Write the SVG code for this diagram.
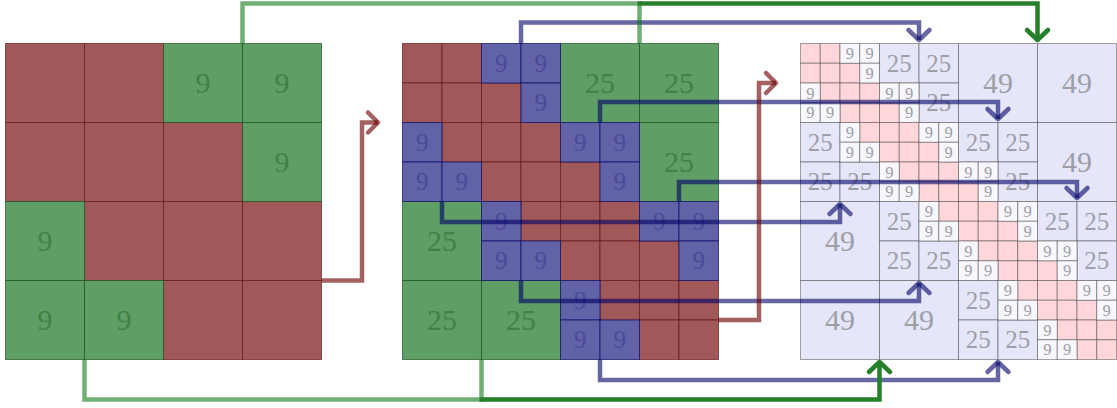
<svg xmlns="http://www.w3.org/2000/svg" xmlns:xlink="http://www.w3.org/1999/xlink" width="1117" height="408" viewBox="0 0 1117 408">
<style>
.r{fill:#a15858;stroke:#5a1212;stroke-opacity:.65;stroke-width:1}
.g{fill:#5f9e64;stroke:#164a1b;stroke-opacity:.65;stroke-width:1}
.b{fill:#6262a6;stroke:#0a0a6a;stroke-opacity:.7;stroke-width:1}
.p{fill:#ffd6d9;stroke:#333;stroke-opacity:.45;stroke-width:1}
.w{fill:#f7f7fd;stroke:#333;stroke-opacity:.45;stroke-width:1}
.l{fill:#e6e6fa;stroke:#333;stroke-opacity:.45;stroke-width:1}
text{font-family:"Liberation Serif","DejaVu Serif",serif;text-anchor:middle}
.tg{fill:#418246;font-size:30px}
.tb{fill:#4a4a98;font-size:25px}
.tr{fill:#9e9ea6}
.big{font-size:30px}
.med{font-size:25px}
.sm{font-size:16.5px}
.cb{fill:none;stroke:#000064;stroke-opacity:.6;stroke-width:4.5}
.cgl{fill:none;stroke:#107a18;stroke-opacity:.6;stroke-width:4.5}
.cgd{fill:none;stroke:#267f2a;stroke-width:4.5}
.cr{fill:none;stroke:#6e0000;stroke-opacity:.62;stroke-width:4.5}
</style>
<defs>
<rect id="pk" class="p" width="19.75" height="19.75"/>
<rect id="wh" class="w" width="19.75" height="19.75"/>
<marker id="mb" markerUnits="userSpaceOnUse" viewBox="-14 -14 18 28" markerWidth="18" markerHeight="28" refX="0" refY="0" orient="auto" style="overflow:visible"><path d="M-10,-10.5 L0,0 L-10,10.5" fill="none" stroke="#000064" stroke-opacity=".6" stroke-width="4.5" stroke-linecap="round" stroke-linejoin="round"/></marker>
<marker id="mg" markerUnits="userSpaceOnUse" viewBox="-14 -14 18 28" markerWidth="18" markerHeight="28" refX="0" refY="0" orient="auto" style="overflow:visible"><path d="M-10,-10.5 L0,0 L-10,10.5" fill="none" stroke="#267f2a" stroke-width="4.5" stroke-linecap="round" stroke-linejoin="round"/></marker>
<marker id="mr" markerUnits="userSpaceOnUse" viewBox="-14 -14 18 28" markerWidth="18" markerHeight="28" refX="0" refY="0" orient="auto" style="overflow:visible"><path d="M-10,-10 L0,0 L-10,10" fill="none" stroke="#6e0000" stroke-opacity=".62" stroke-width="4.5" stroke-linecap="round" stroke-linejoin="round"/></marker>
</defs>

<g id="grid-level1">
<rect class="r" x="5.5" y="43.5" width="79" height="79"/>
<rect class="r" x="84.5" y="43.5" width="79" height="79"/>
<rect class="r" x="5.5" y="122.5" width="79" height="79"/>
<rect class="r" x="84.5" y="122.5" width="79" height="79"/>
<rect class="r" x="163.5" y="122.5" width="79" height="79"/>
<rect class="r" x="84.5" y="201.5" width="79" height="79"/>
<rect class="r" x="163.5" y="201.5" width="79" height="79"/>
<rect class="r" x="242.5" y="201.5" width="79" height="79"/>
<rect class="r" x="163.5" y="280.5" width="79" height="79"/>
<rect class="r" x="242.5" y="280.5" width="79" height="79"/>
<rect class="g" x="163.5" y="43.5" width="79" height="79"/>
<rect class="g" x="242.5" y="43.5" width="79" height="79"/>
<rect class="g" x="242.5" y="122.5" width="79" height="79"/>
<rect class="g" x="5.5" y="201.5" width="79" height="79"/>
<rect class="g" x="5.5" y="280.5" width="79" height="79"/>
<rect class="g" x="84.5" y="280.5" width="79" height="79"/>
<text class="tg" x="203" y="93.2">9</text>
<text class="tg" x="282" y="93.2">9</text>
<text class="tg" x="282" y="172.2">9</text>
<text class="tg" x="45" y="251.2">9</text>
<text class="tg" x="45" y="330.2">9</text>
<text class="tg" x="124" y="330.2">9</text>
</g>

<g id="grid-level2">
<rect class="r" x="402.5" y="43.5" width="39.5" height="39.5"/>
<rect class="r" x="442" y="43.5" width="39.5" height="39.5"/>
<rect class="r" x="402.5" y="83" width="39.5" height="39.5"/>
<rect class="r" x="442" y="83" width="39.5" height="39.5"/>
<rect class="r" x="481.5" y="83" width="39.5" height="39.5"/>
<rect class="r" x="442" y="122.5" width="39.5" height="39.5"/>
<rect class="r" x="481.5" y="122.5" width="39.5" height="39.5"/>
<rect class="r" x="521" y="122.5" width="39.5" height="39.5"/>
<rect class="r" x="481.5" y="162" width="39.5" height="39.5"/>
<rect class="r" x="521" y="162" width="39.5" height="39.5"/>
<rect class="r" x="560.5" y="162" width="39.5" height="39.5"/>
<rect class="r" x="521" y="201.5" width="39.5" height="39.5"/>
<rect class="r" x="560.5" y="201.5" width="39.5" height="39.5"/>
<rect class="r" x="600" y="201.5" width="39.5" height="39.5"/>
<rect class="r" x="560.5" y="241" width="39.5" height="39.5"/>
<rect class="r" x="600" y="241" width="39.5" height="39.5"/>
<rect class="r" x="639.5" y="241" width="39.5" height="39.5"/>
<rect class="r" x="600" y="280.5" width="39.5" height="39.5"/>
<rect class="r" x="639.5" y="280.5" width="39.5" height="39.5"/>
<rect class="r" x="679" y="280.5" width="39.5" height="39.5"/>
<rect class="r" x="639.5" y="320" width="39.5" height="39.5"/>
<rect class="r" x="679" y="320" width="39.5" height="39.5"/>
<rect class="g" x="560.5" y="43.5" width="79" height="79"/>
<rect class="g" x="639.5" y="43.5" width="79" height="79"/>
<rect class="g" x="639.5" y="122.5" width="79" height="79"/>
<rect class="g" x="402.5" y="201.5" width="79" height="79"/>
<rect class="g" x="402.5" y="280.5" width="79" height="79"/>
<rect class="g" x="481.5" y="280.5" width="79" height="79"/>
<rect class="b" x="481.5" y="43.5" width="39.5" height="39.5"/>
<rect class="b" x="521" y="43.5" width="39.5" height="39.5"/>
<rect class="b" x="521" y="83" width="39.5" height="39.5"/>
<rect class="b" x="402.5" y="122.5" width="39.5" height="39.5"/>
<rect class="b" x="402.5" y="162" width="39.5" height="39.5"/>
<rect class="b" x="442" y="162" width="39.5" height="39.5"/>
<rect class="b" x="560.5" y="122.5" width="39.5" height="39.5"/>
<rect class="b" x="600" y="122.5" width="39.5" height="39.5"/>
<rect class="b" x="600" y="162" width="39.5" height="39.5"/>
<rect class="b" x="481.5" y="201.5" width="39.5" height="39.5"/>
<rect class="b" x="481.5" y="241" width="39.5" height="39.5"/>
<rect class="b" x="521" y="241" width="39.5" height="39.5"/>
<rect class="b" x="639.5" y="201.5" width="39.5" height="39.5"/>
<rect class="b" x="679" y="201.5" width="39.5" height="39.5"/>
<rect class="b" x="679" y="241" width="39.5" height="39.5"/>
<rect class="b" x="560.5" y="280.5" width="39.5" height="39.5"/>
<rect class="b" x="560.5" y="320" width="39.5" height="39.5"/>
<rect class="b" x="600" y="320" width="39.5" height="39.5"/>
<text class="tg" x="600" y="93.2">25</text>
<text class="tg" x="679" y="93.2">25</text>
<text class="tg" x="679" y="172.2">25</text>
<text class="tg" x="442" y="251.2">25</text>
<text class="tg" x="442" y="330.2">25</text>
<text class="tg" x="521" y="330.2">25</text>
<text class="tb" x="501.25" y="71.75">9</text>
<text class="tb" x="540.75" y="71.75">9</text>
<text class="tb" x="540.75" y="111.25">9</text>
<text class="tb" x="422.25" y="150.75">9</text>
<text class="tb" x="422.25" y="190.25">9</text>
<text class="tb" x="461.75" y="190.25">9</text>
<text class="tb" x="580.25" y="150.75">9</text>
<text class="tb" x="619.75" y="150.75">9</text>
<text class="tb" x="619.75" y="190.25">9</text>
<text class="tb" x="501.25" y="229.75">9</text>
<text class="tb" x="501.25" y="269.25">9</text>
<text class="tb" x="540.75" y="269.25">9</text>
<text class="tb" x="659.25" y="229.75">9</text>
<text class="tb" x="698.75" y="229.75">9</text>
<text class="tb" x="698.75" y="269.25">9</text>
<text class="tb" x="580.25" y="308.75">9</text>
<text class="tb" x="580.25" y="348.25">9</text>
<text class="tb" x="619.75" y="348.25">9</text>
</g>

<g id="grid-level3">
<rect class="l" x="958.5" y="43.5" width="79" height="79"/>
<rect class="l" x="1037.5" y="43.5" width="79" height="79"/>
<rect class="l" x="1037.5" y="122.5" width="79" height="79"/>
<rect class="l" x="800.5" y="201.5" width="79" height="79"/>
<rect class="l" x="800.5" y="280.5" width="79" height="79"/>
<rect class="l" x="879.5" y="280.5" width="79" height="79"/>
<rect class="l" x="879.5" y="43.5" width="39.5" height="39.5"/>
<rect class="l" x="919" y="43.5" width="39.5" height="39.5"/>
<rect class="l" x="919" y="83" width="39.5" height="39.5"/>
<rect class="l" x="800.5" y="122.5" width="39.5" height="39.5"/>
<rect class="l" x="800.5" y="162" width="39.5" height="39.5"/>
<rect class="l" x="840" y="162" width="39.5" height="39.5"/>
<rect class="l" x="958.5" y="122.5" width="39.5" height="39.5"/>
<rect class="l" x="998" y="122.5" width="39.5" height="39.5"/>
<rect class="l" x="998" y="162" width="39.5" height="39.5"/>
<rect class="l" x="879.5" y="201.5" width="39.5" height="39.5"/>
<rect class="l" x="879.5" y="241" width="39.5" height="39.5"/>
<rect class="l" x="919" y="241" width="39.5" height="39.5"/>
<rect class="l" x="1037.5" y="201.5" width="39.5" height="39.5"/>
<rect class="l" x="1077" y="201.5" width="39.5" height="39.5"/>
<rect class="l" x="1077" y="241" width="39.5" height="39.5"/>
<rect class="l" x="958.5" y="280.5" width="39.5" height="39.5"/>
<rect class="l" x="958.5" y="320" width="39.5" height="39.5"/>
<rect class="l" x="998" y="320" width="39.5" height="39.5"/>
<use xlink:href="#pk" x="800.5" y="43.5"/><use xlink:href="#pk" x="820.25" y="43.5"/>
<use xlink:href="#pk" x="800.5" y="63.25"/><use xlink:href="#pk" x="820.25" y="63.25"/><use xlink:href="#pk" x="840" y="63.25"/>
<use xlink:href="#pk" x="820.25" y="83"/><use xlink:href="#pk" x="840" y="83"/><use xlink:href="#pk" x="859.75" y="83"/>
<use xlink:href="#pk" x="840" y="102.75"/><use xlink:href="#pk" x="859.75" y="102.75"/><use xlink:href="#pk" x="879.5" y="102.75"/>
<use xlink:href="#pk" x="859.75" y="122.5"/><use xlink:href="#pk" x="879.5" y="122.5"/><use xlink:href="#pk" x="899.25" y="122.5"/>
<use xlink:href="#pk" x="879.5" y="142.25"/><use xlink:href="#pk" x="899.25" y="142.25"/><use xlink:href="#pk" x="919" y="142.25"/>
<use xlink:href="#pk" x="899.25" y="162"/><use xlink:href="#pk" x="919" y="162"/><use xlink:href="#pk" x="938.75" y="162"/>
<use xlink:href="#pk" x="919" y="181.75"/><use xlink:href="#pk" x="938.75" y="181.75"/><use xlink:href="#pk" x="958.5" y="181.75"/>
<use xlink:href="#pk" x="938.75" y="201.5"/><use xlink:href="#pk" x="958.5" y="201.5"/><use xlink:href="#pk" x="978.25" y="201.5"/>
<use xlink:href="#pk" x="958.5" y="221.25"/><use xlink:href="#pk" x="978.25" y="221.25"/><use xlink:href="#pk" x="998" y="221.25"/>
<use xlink:href="#pk" x="978.25" y="241"/><use xlink:href="#pk" x="998" y="241"/><use xlink:href="#pk" x="1017.75" y="241"/>
<use xlink:href="#pk" x="998" y="260.75"/><use xlink:href="#pk" x="1017.75" y="260.75"/><use xlink:href="#pk" x="1037.5" y="260.75"/>
<use xlink:href="#pk" x="1017.75" y="280.5"/><use xlink:href="#pk" x="1037.5" y="280.5"/><use xlink:href="#pk" x="1057.25" y="280.5"/>
<use xlink:href="#pk" x="1037.5" y="300.25"/><use xlink:href="#pk" x="1057.25" y="300.25"/><use xlink:href="#pk" x="1077" y="300.25"/>
<use xlink:href="#pk" x="1057.25" y="320"/><use xlink:href="#pk" x="1077" y="320"/><use xlink:href="#pk" x="1096.75" y="320"/>
<use xlink:href="#pk" x="1077" y="339.75"/><use xlink:href="#pk" x="1096.75" y="339.75"/>
<use xlink:href="#wh" x="840" y="43.5"/><use xlink:href="#wh" x="859.75" y="43.5"/><use xlink:href="#wh" x="859.75" y="63.25"/>
<use xlink:href="#wh" x="800.5" y="83"/><use xlink:href="#wh" x="800.5" y="102.75"/><use xlink:href="#wh" x="820.25" y="102.75"/>
<use xlink:href="#wh" x="879.5" y="83"/><use xlink:href="#wh" x="899.25" y="83"/><use xlink:href="#wh" x="899.25" y="102.75"/>
<use xlink:href="#wh" x="840" y="122.5"/><use xlink:href="#wh" x="840" y="142.25"/><use xlink:href="#wh" x="859.75" y="142.25"/>
<use xlink:href="#wh" x="919" y="122.5"/><use xlink:href="#wh" x="938.75" y="122.5"/><use xlink:href="#wh" x="938.75" y="142.25"/>
<use xlink:href="#wh" x="879.5" y="162"/><use xlink:href="#wh" x="879.5" y="181.75"/><use xlink:href="#wh" x="899.25" y="181.75"/>
<use xlink:href="#wh" x="958.5" y="162"/><use xlink:href="#wh" x="978.25" y="162"/><use xlink:href="#wh" x="978.25" y="181.75"/>
<use xlink:href="#wh" x="919" y="201.5"/><use xlink:href="#wh" x="919" y="221.25"/><use xlink:href="#wh" x="938.75" y="221.25"/>
<use xlink:href="#wh" x="998" y="201.5"/><use xlink:href="#wh" x="1017.75" y="201.5"/><use xlink:href="#wh" x="1017.75" y="221.25"/>
<use xlink:href="#wh" x="958.5" y="241"/><use xlink:href="#wh" x="958.5" y="260.75"/><use xlink:href="#wh" x="978.25" y="260.75"/>
<use xlink:href="#wh" x="1037.5" y="241"/><use xlink:href="#wh" x="1057.25" y="241"/><use xlink:href="#wh" x="1057.25" y="260.75"/>
<use xlink:href="#wh" x="998" y="280.5"/><use xlink:href="#wh" x="998" y="300.25"/><use xlink:href="#wh" x="1017.75" y="300.25"/>
<use xlink:href="#wh" x="1077" y="280.5"/><use xlink:href="#wh" x="1096.75" y="280.5"/><use xlink:href="#wh" x="1096.75" y="300.25"/>
<use xlink:href="#wh" x="1037.5" y="320"/><use xlink:href="#wh" x="1037.5" y="339.75"/><use xlink:href="#wh" x="1057.25" y="339.75"/>
<g class="tr big">
<text x="998" y="93.2">49</text>
<text x="1077" y="93.2">49</text>
<text x="1077" y="172.2">49</text>
<text x="840" y="251.2">49</text>
<text x="840" y="330.2">49</text>
<text x="919" y="330.2">49</text>
</g>
<g class="tr med">
<text x="899.25" y="71.75">25</text>
<text x="938.75" y="71.75">25</text>
<text x="938.75" y="111.25">25</text>
<text x="820.25" y="150.75">25</text>
<text x="820.25" y="190.25">25</text>
<text x="859.75" y="190.25">25</text>
<text x="978.25" y="150.75">25</text>
<text x="1017.75" y="150.75">25</text>
<text x="1017.75" y="190.25">25</text>
<text x="899.25" y="229.75">25</text>
<text x="899.25" y="269.25">25</text>
<text x="938.75" y="269.25">25</text>
<text x="1057.25" y="229.75">25</text>
<text x="1096.75" y="229.75">25</text>
<text x="1096.75" y="269.25">25</text>
<text x="978.25" y="308.75">25</text>
<text x="978.25" y="348.25">25</text>
<text x="1017.75" y="348.25">25</text>
</g>
<g class="tr sm">
<text x="849.9" y="59">9</text><text x="869.6" y="59">9</text><text x="869.6" y="78.7">9</text>
<text x="810.4" y="98.5">9</text><text x="810.4" y="118.2">9</text><text x="830.1" y="118.2">9</text>
<text x="889.4" y="98.5">9</text><text x="909.1" y="98.5">9</text><text x="909.1" y="118.2">9</text>
<text x="849.9" y="138">9</text><text x="849.9" y="157.7">9</text><text x="869.6" y="157.7">9</text>
<text x="928.9" y="138">9</text><text x="948.6" y="138">9</text><text x="948.6" y="157.7">9</text>
<text x="889.4" y="177.5">9</text><text x="889.4" y="197.2">9</text><text x="909.1" y="197.2">9</text>
<text x="968.4" y="177.5">9</text><text x="988.1" y="177.5">9</text><text x="988.1" y="197.2">9</text>
<text x="928.9" y="217">9</text><text x="928.9" y="236.7">9</text><text x="948.6" y="236.7">9</text>
<text x="1007.9" y="217">9</text><text x="1027.6" y="217">9</text><text x="1027.6" y="236.7">9</text>
<text x="968.4" y="256.5">9</text><text x="968.4" y="276.2">9</text><text x="988.1" y="276.2">9</text>
<text x="1047.4" y="256.5">9</text><text x="1067.1" y="256.5">9</text><text x="1067.1" y="276.2">9</text>
<text x="1007.9" y="296">9</text><text x="1007.9" y="315.7">9</text><text x="1027.6" y="315.7">9</text>
<text x="1086.9" y="296">9</text><text x="1106.6" y="296">9</text><text x="1106.6" y="315.7">9</text>
<text x="1047.4" y="335.5">9</text><text x="1047.4" y="355.2">9</text><text x="1067.1" y="355.2">9</text>
</g>
</g>

<g id="connectors">
<path class="cb" d="M521,43.5 V22.5 H919 V40" marker-end="url(#mb)"/>
<path class="cb" d="M600,122.5 V102 H998 V119" marker-end="url(#mb)"/>
<path class="cb" d="M679,201.5 V182 H1077 V198" marker-end="url(#mb)"/>
<path class="cb" d="M442,201.5 V222 H840 V204" marker-end="url(#mb)"/>
<path class="cb" d="M521,280.5 V301 H919 V283" marker-end="url(#mb)"/>
<path class="cb" d="M600,359.5 V380 H998 V362" marker-end="url(#mb)"/>
<path class="cgl" d="M242.5,43.5 V3.5 H639.5 V43.5"/>
<path class="cgd" d="M637.5,3.5 H1037.5 V40" marker-end="url(#mg)"/>
<path class="cgl" d="M84.5,359.5 V399.5 H481.5 V359.5"/>
<path class="cgd" d="M479.5,399.5 H879.5 V362" marker-end="url(#mg)"/>
<path class="cr" d="M321.5,280.5 H362 V122.5 H378" marker-end="url(#mr)"/>
<path class="cr" d="M718.5,320 H759 V83 H776" marker-end="url(#mr)"/>
</g>
</svg>
